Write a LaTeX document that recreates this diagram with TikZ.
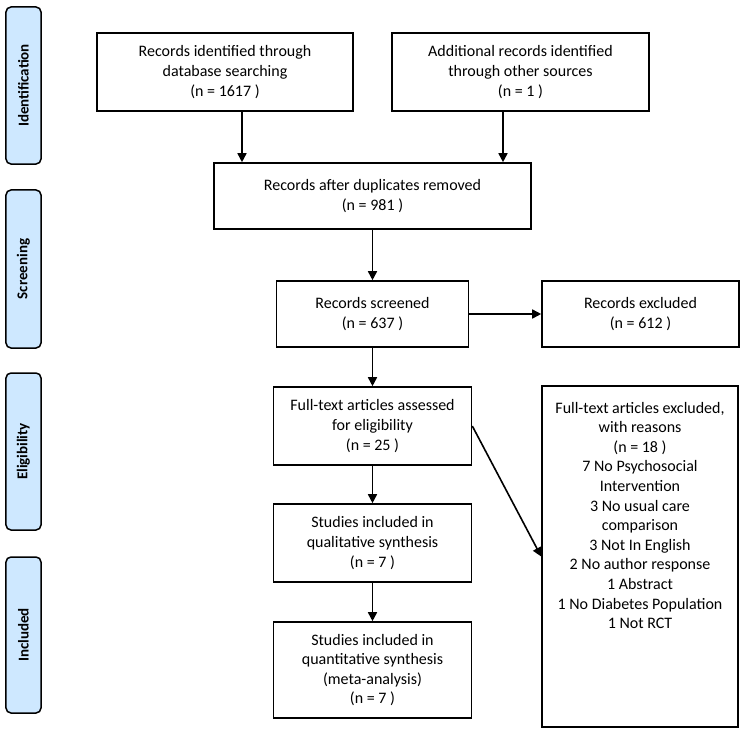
\documentclass[tikz,border=0pt]{standalone}
\usepackage{fontspec}
\setmainfont{Carlito}
\usetikzlibrary{arrows.meta}
\definecolor{phaseblue}{RGB}{206,232,255}
\tikzset{
  box/.style={draw, line width=1.6bp, align=center, inner sep=0pt, font=\fontsize{16bp}{19.6bp}\selectfont},
  phase/.style={draw, line width=1.5bp, rounded corners=5bp, fill=phaseblue, rotate=90, minimum height=35bp, inner sep=0pt, font=\fontsize{15bp}{17bp}\selectfont\bfseries},
  arr/.style={line width=1.6bp, -{Triangle[length=9bp,width=9bp]}}
}

\begin{document}
\begin{tikzpicture}[x=1bp, y=-1bp]
  \useasboundingbox (0,0) rectangle (743,732);
  % phase bars
  \foreach \nm/\y/\h in {Identification/85.5/157, Screening/269/158, Eligibility/451.5/157, Included/635/156} {
    \node[phase, minimum width=\h bp] (ph\nm) at (23.5,\y) {\nm};
  }
  % boxes
  \node[box, minimum width=256bp, minimum height=78bp] (dbase) at (225,72) {Records identified through\\database searching\\(n = 1617 )};
  \node[box, minimum width=257bp, minimum height=78bp] (other) at (520.5,72) {Additional records identified\\through other sources\\(n = 1 )};
  \node[box, minimum width=317bp, minimum height=66bp] (dedup) at (372.5,196) {Records after duplicates removed\\(n = 981 )};
  \node[box, minimum width=192bp, minimum height=66bp] (screen) at (372.5,314) {Records screened\\(n = 637 )};
  \node[box, minimum width=197bp, minimum height=66bp] (excl) at (640.5,314) {Records excluded\\(n = 612 )};
  \node[box, minimum width=198bp, minimum height=78bp] (fulltext) at (372.5,426) {Full-text articles assessed\\for eligibility\\(n = 25 )};
  \node[box, minimum width=198bp, minimum height=78bp] (qual) at (372.5,543) {Studies included in\\qualitative synthesis\\(n = 7 )};
  \node[box, minimum width=198bp, minimum height=96bp] (quant) at (372.5,670) {Studies included in\\quantitative synthesis\\(meta-analysis)\\(n = 7 )};
  \node[box, minimum width=196bp, minimum height=341bp] (reasons) at (640,556.5) {};
  \node[box, draw=none, anchor=north] (reasonstxt) at ([yshift=-16bp]reasons.north) {Full-text articles excluded,\\with reasons\\(n = 18 )\\7 No Psychosocial\\Intervention\\3 No usual care\\comparison\\3 Not In English\\2 No author response\\1 Abstract\\1 No Diabetes Population\\1 Not RCT};
  % arrows
  \draw[arr] ([xshift=17bp]dbase.south) -- ([xshift=17bp]dbase.south |- dedup.north);
  \draw[arr] ([xshift=-17.5bp]other.south) -- ([xshift=-17.5bp]other.south |- dedup.north);
  \draw[arr] (dedup.south) -- (screen.north);
  \draw[arr] (screen.east) -- (excl.west);
  \draw[arr] (screen.south) -- (fulltext.north);
  \draw[arr] (fulltext.south) -- (qual.north);
  \draw[arr] (qual.south) -- (quant.north);
  \draw[arr] (fulltext.east) -- (reasons.west);
\end{tikzpicture}
\end{document}
